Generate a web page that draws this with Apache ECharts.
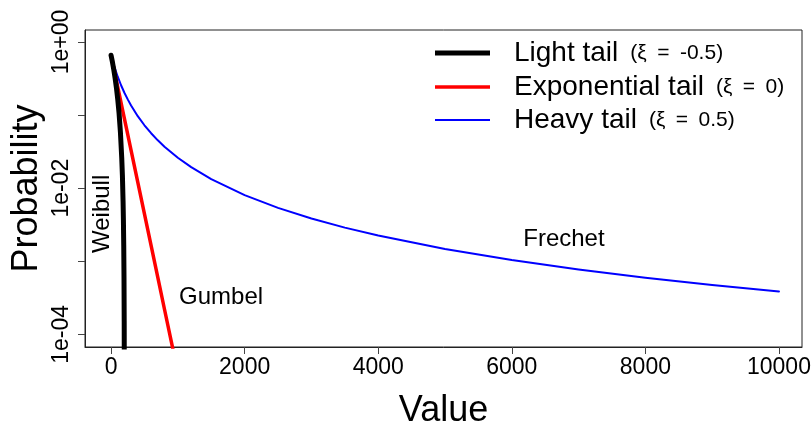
<!DOCTYPE html>
<html><head><meta charset="utf-8">
<script src="https://cdn.jsdelivr.net/npm/echarts@6/dist/echarts.min.js"></script>
<style>html,body{margin:0;padding:0;background:#fff}#c{width:811px;height:429px}</style>
</head><body><div id="c"></div>
<script>
// ---- data ----
const seriesNames = ['Light tail', 'Exponential tail', 'Heavy tail'];
const legendParams = ['(\u03BE\u2002=\u2002-0.5)', '(\u03BE\u2002=\u20020)', '(\u03BE\u2002=\u20020.5)'];

const xLight = [0, 20, 40, 60, 80, 100, 120, 140, 160, 170, 180, 185, 190, 194, 197, 199];
const pLight = [0.66, 0.535, 0.422, 0.323, 0.238, 0.165, 0.106, 0.059, 0.026, 0.015, 0.0066, 0.0037, 0.00165, 0.00059, 0.00015, 0.0000165];

const xExp = [0, 100, 200, 300, 400, 500, 600, 700, 800, 900, 1000];
const pExp = [0.66, 0.243, 0.0893, 0.0329, 0.0121, 0.00445, 0.00164, 0.000602, 0.000221, 0.0000815, 0.00003];

const xHeavy = [0, 25, 50, 100, 150, 200, 250, 300, 400, 500, 600, 700, 800, 1000, 1200, 1500, 2000, 2500, 3000, 3500, 4000, 5000, 6000, 7000, 8000, 9000, 10000];
const pHeavy = [0.66, 0.545, 0.457, 0.335, 0.256, 0.202, 0.164, 0.135, 0.0967, 0.0726, 0.0565, 0.0452, 0.037, 0.0261, 0.0194, 0.0133, 0.00803, 0.00538, 0.00385, 0.00289, 0.00225, 0.00147, 0.00104, 0.000773, 0.000597, 0.000475, 0.000387];

const xTicks = [0, 2000, 4000, 6000, 8000, 10000];
const yTicks = [1e-4, 1e-3, 1e-2, 1e-1, 1];
const yLabelValues = [1, 1e-2, 1e-4];
const yLabelTexts = ['1e+00', '1e-02', '1e-04'];

const annotations = [
  { text: 'Weibull', x: -135, p: 0.00446, vertical: true },
  { text: 'Gumbel', x: 1647, p: 0.000317, vertical: false },
  { text: 'Frechet', x: 6781, p: 0.00197, vertical: false }
];

// ---- styling ----
const FONT = 'Liberation Sans, Arial, sans-serif';
const colors = ['#000000', '#ff0000', '#0000ff'];
const widths = [5, 3.5, 2];
const legendHeights = [5, 3.5, 2];
const legendTops = [39, 73, 106];

const pairs = (xs, ys) => xs.map((x, i) => [x, ys[i]]);
const dataSets = [pairs(xLight, pLight), pairs(xExp, pExp), pairs(xHeavy, pHeavy)];

const chart = echarts.init(document.getElementById('c'), null, { renderer: 'canvas' });

const option = {
  animation: false,
  backgroundColor: '#ffffff',
  grid: { left: 85, right: 9, top: 30, bottom: 82, show: true, borderColor: '#222', borderWidth: 1,
    backgroundColor: 'transparent', containLabel: false, outerBoundsMode: 'none' },
  xAxis: {
    type: 'value', min: -390, max: 10345,
    axisLine: { show: true, onZero: false, lineStyle: { color: '#222', width: 1 } },
    axisTick: { show: true, length: 7, lineStyle: { color: '#444' }, customValues: xTicks },
    axisLabel: { customValues: xTicks, fontSize: 23, color: '#000', fontFamily: FONT, margin: 9,
      formatter: function (v) { return String(Math.round(v)); } },
    splitLine: { show: false },
    name: 'Value', nameLocation: 'middle', nameGap: 46, nameMoveOverlap: false,
    nameTextStyle: { fontSize: 36, fontFamily: FONT, color: '#000' }
  },
  yAxis: {
    type: 'log', logBase: 10, min: 6.73e-5, max: 1.459,
    axisLine: { show: true, onZero: false, lineStyle: { color: '#222', width: 1 } },
    axisTick: { show: true, length: 7, lineStyle: { color: '#444' }, customValues: yTicks },
    axisLabel: { show: false },
    splitLine: { show: false },
    minorTick: { show: false },
    name: 'Probability', nameLocation: 'middle', nameRotate: 90, nameGap: 40, nameMoveOverlap: false,
    nameTextStyle: { fontSize: 36, fontFamily: FONT, color: '#000' }
  },
  legend: seriesNames.map((n, i) => ({
    data: [n], left: 435, top: legendTops[i], padding: 0,
    icon: 'rect', itemWidth: 55, itemHeight: legendHeights[i],
    itemStyle: { borderWidth: 0 }, selectedMode: false,
    formatter: function (name) { return '{a|' + name + '}{b|' + legendParams[seriesNames.indexOf(name)] + '}'; },
    textStyle: {
      rich: {
        a: { fontSize: 28, fontFamily: FONT, color: '#000', lineHeight: 32, padding: [0, 0, 0, 19] },
        b: { fontSize: 21, fontFamily: FONT, color: '#000', lineHeight: 32, padding: [0, 0, 0, 12] }
      }
    }
  })),
  series: seriesNames.map((n, i) => ({
    name: n, type: 'line', data: dataSets[i], showSymbol: false, symbol: 'none',
    clip: true, smooth: false,
    itemStyle: { color: colors[i] },
    lineStyle: { color: colors[i], width: widths[i], cap: 'round', join: 'round' },
    z: 3 - i
  }))
};
chart.setOption(option);

const graphics = annotations.map(a => {
  const pt = chart.convertToPixel({ gridIndex: 0 }, [a.x, a.p]);
  return {
    type: 'text', x: pt[0], y: pt[1], rotation: a.vertical ? Math.PI / 2 : 0, z: 10,
    style: { text: a.text, fontSize: 24, fontFamily: FONT, fill: '#000',
      textAlign: 'center', textVerticalAlign: 'middle', align: 'center', verticalAlign: 'middle' }
  };
});
// y tick labels (rotated, R style), positioned on the log axis
yLabelValues.forEach((v, i) => {
  const py = chart.convertToPixel({ yAxisIndex: 0 }, v);
  graphics.push({
    type: 'text', x: 62, y: py, rotation: Math.PI / 2, z: 10,
    style: { text: yLabelTexts[i], fontSize: 23, fontFamily: FONT, fill: '#000',
      textAlign: 'center', textVerticalAlign: 'middle', align: 'center', verticalAlign: 'middle' }
  });
});
chart.setOption({ graphic: graphics });
</script></body></html>
